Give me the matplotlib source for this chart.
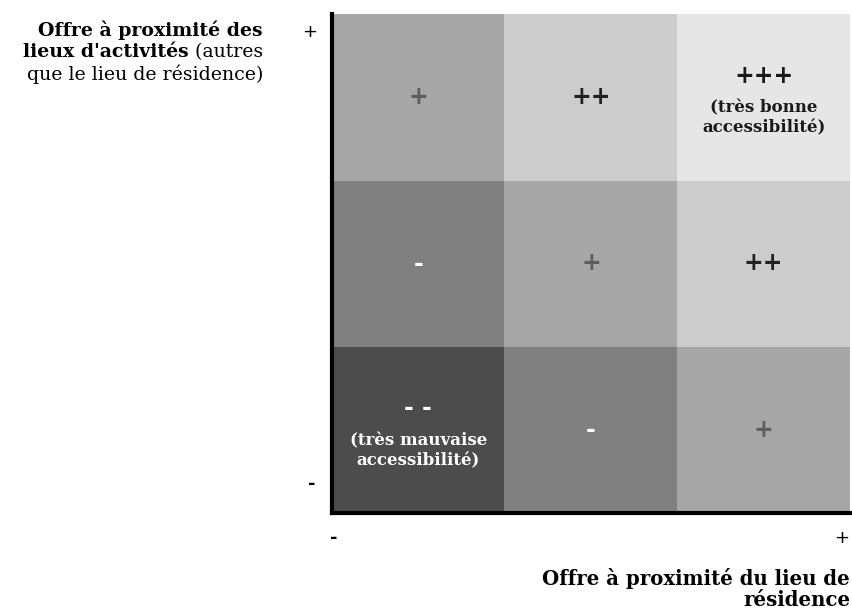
import matplotlib.pyplot as plt
import numpy as np

# grey level of each cell (rows from bottom to top, columns left to right)
cell_grey = [
    [0.30, 0.50, 0.65],
    [0.50, 0.65, 0.80],
    [0.65, 0.80, 0.90],
]
# main mark in each cell
cell_marks = [
    ["- -", "-", "+"],
    ["-", "+", "++"],
    ["+", "++", "+++"],
]
mark_colors = [
    ["white", "white", "#5e5e5e"],
    ["white", "#5e5e5e", "#222222"],
    ["#5e5e5e", "#222222", "#1a1a1a"],
]
# sub-label under some marks
cell_notes = {
    (0, 0): "(très mauvaise\naccessibilité)",
    (2, 2): "(très bonne\naccessibilité)",
}

y_title_bold = "Offre à proximité des"
y_title_bold2 = "lieux d'activités"
y_title_reg2 = " (autres"
y_title_reg3 = "que le lieu de résidence)"
x_title = "Offre à proximité du lieu de\nrésidence"

serif = "DejaVu Serif"
sans = "DejaVu Sans"

fig = plt.figure(figsize=(8.52, 6.13), dpi=100)
W, H = 852, 613


def fx(px):
    return px / W


def fy(py):
    return 1 - py / H


ax = fig.add_axes([fx(332), fy(513), fx(850) - fx(332), fy(14) - fy(513)])
grid = np.array(cell_grey)
ax.imshow(grid, cmap="gray", vmin=0, vmax=1, origin="lower",
          extent=(0, 3, 0, 3), aspect="auto", interpolation="nearest")
ax.set_xlim(0, 3)
ax.set_ylim(0, 3)
ax.set_xticks([])
ax.set_yticks([])
for s in ["top", "right"]:
    ax.spines[s].set_visible(False)
for s in ["left", "bottom"]:
    ax.spines[s].set_linewidth(3)
    ax.spines[s].set_color("black")

for r in range(3):
    for c in range(3):
        note = cell_notes.get((r, c))
        col = mark_colors[r][c]
        if note is None:
            ax.text(c + 0.5, r + 0.5, cell_marks[r][c], ha="center", va="center",
                    fontsize=17, fontweight="bold", color=col, family=sans)
        else:
            ax.text(c + 0.5, r + 0.63, cell_marks[r][c], ha="center", va="center",
                    fontsize=17, fontweight="bold", color=col, family=sans)
            ax.text(c + 0.5, r + 0.375, note, ha="center", va="center",
                    fontsize=12, fontweight="bold", color=col, family=serif,
                    linespacing=1.25)

# y-axis end labels
fig.text(fx(310), fy(32), "+", ha="center", va="center", fontsize=13, family=sans)
fig.text(fx(312), fy(484), "-", ha="center", va="center", fontsize=13,
         fontweight="bold", family=sans)
# x-axis end labels
fig.text(fx(334), fy(538), "-", ha="center", va="center", fontsize=13,
         fontweight="bold", family=sans)
fig.text(fx(842), fy(538), "+", ha="center", va="center", fontsize=13, family=sans)

# y title (right aligned block, mixed weight)
fs = 13.6
fig.text(fx(263), fy(30), y_title_bold, ha="right", va="center", fontsize=fs,
         fontweight="bold", family=serif)
t_reg = fig.text(fx(263), fy(52), y_title_reg2, ha="right", va="center",
                 fontsize=fs, family=serif)
fig.canvas.draw()
bb = t_reg.get_window_extent()
fig.text(bb.x0 / W, fy(52), y_title_bold2, ha="right", va="center", fontsize=fs,
         fontweight="bold", family=serif)
fig.text(fx(263), fy(74), y_title_reg3, ha="right", va="center", fontsize=fs,
         family=serif)

# x title
fig.text(fx(850), fy(589), x_title, ha="right", va="center", fontsize=14.2,
         fontweight="bold", family=serif, multialignment="right", linespacing=1.1)

fig.savefig("out.png", dpi=100)
